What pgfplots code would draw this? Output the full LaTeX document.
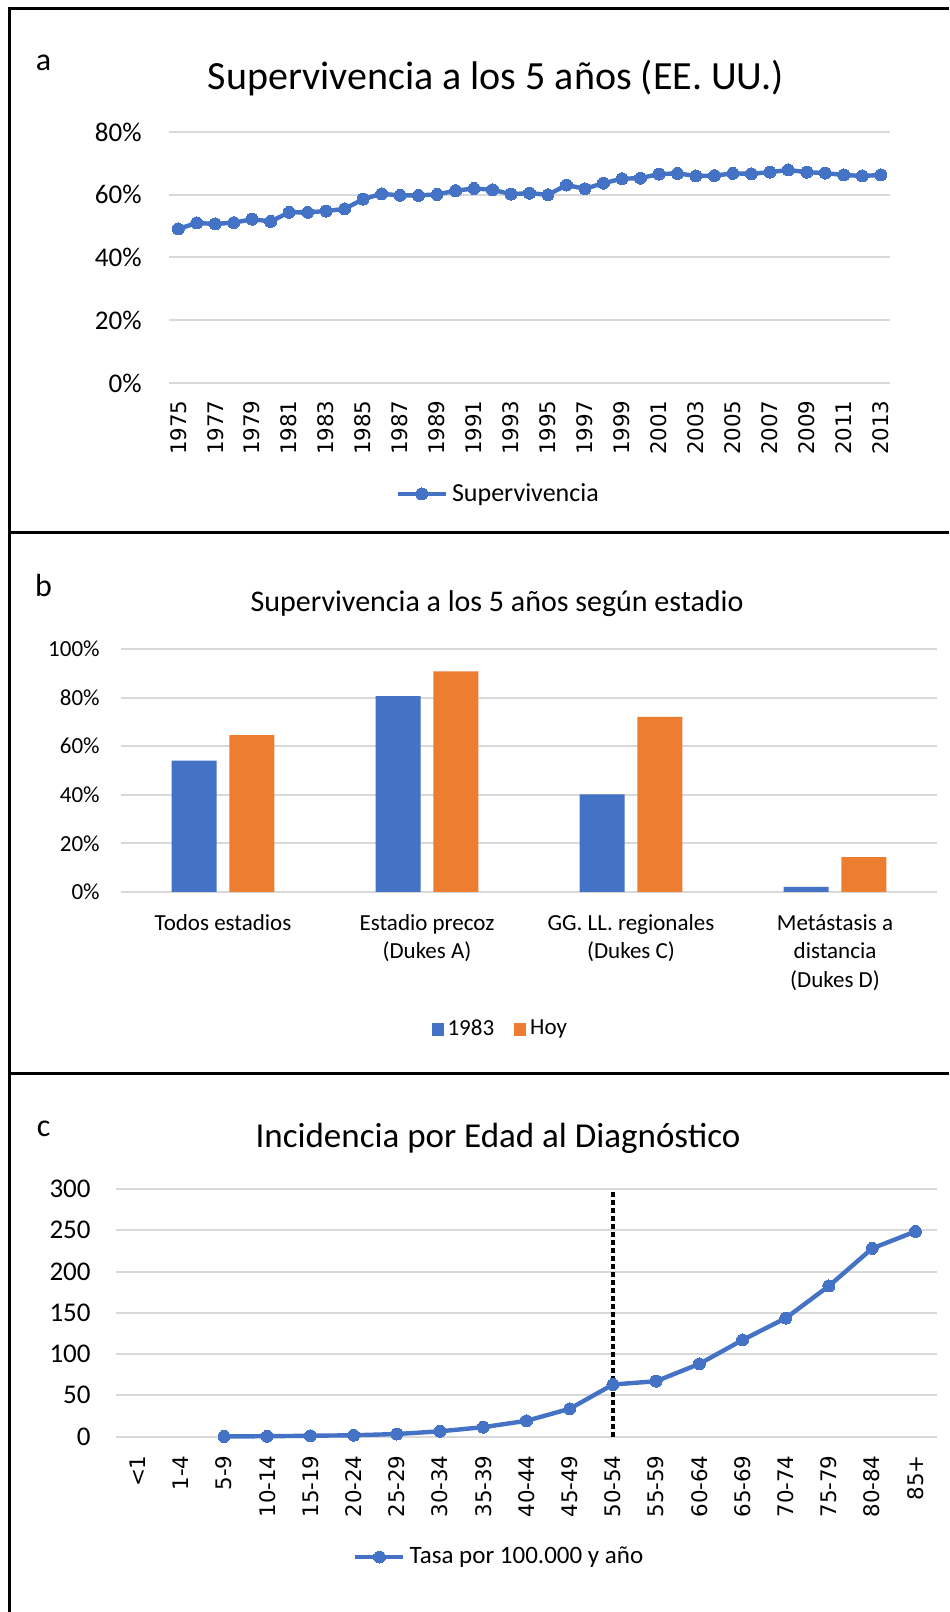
\documentclass[border=0pt]{standalone}
\usepackage{fontspec}
\setmainfont{Carlito}
\newfontfamily\dejavu{DejaVu Sans}
\usepackage{pgfplots}
\pgfplotsset{compat=1.18}
\definecolor{xblue}{HTML}{4472C4}
\definecolor{xorange}{HTML}{ED7D31}
\definecolor{xgrid}{HTML}{D9D9D9}
\pgfplotsset{
  xls/.style={scale only axis, anchor=south west,
    axis line style={draw=none}, tick style={draw=none},
    ymajorgrids, major grid style={xgrid, line width=1pt},
    clip=false, /pgf/number format/assume math mode=true,
    /pgf/number format/1000 sep={}},
  xline/.style={xblue, line width=2.2pt, mark=*, mark size=3pt, mark options={fill=xblue, draw=xblue, line width=0pt}},
  linelegend/.style={legend image code/.code={\draw[mark repeat=2,mark phase=2,##1] plot coordinates {(0pt,0pt) (12pt,0pt) (24pt,0pt)};}}
}
\begin{document}
\begin{tikzpicture}
\useasboundingbox (0,0) rectangle (474.5pt,806pt);
\fill[white] (0,0) rectangle (474.5pt,806pt);
\draw[line width=1.5pt] (474.5pt,801.75pt) -- (4.75pt,801.75pt) -- (4.75pt,0pt);
\draw[line width=1.5pt] (4.75pt,539.5pt) -- (474.5pt,539.5pt);
\draw[line width=1.5pt] (4.75pt,269pt) -- (474.5pt,269pt);

% ---------- panel a ----------
\node[anchor=base, font=\fontsize{16}{19}\selectfont] at (21.8pt,770.7pt) {a};
\node[anchor=base, font=\fontsize{20}{24}\selectfont] at (248pt,761.3pt) {Supervivencia a los 5 años (EE. UU.)};
\begin{axis}[xls, linelegend, at={(84.5pt,614.5pt)}, width=360.5pt, height=125.5pt,
  xmin=1974.5, xmax=2013.5, ymin=0, ymax=80,
  ytick={0,20,40,60,80}, yticklabels={0\%,20\%,40\%,60\%,80\%},
  yticklabel style={font=\fontsize{13.5}{16}\selectfont, anchor=east, inner sep=0pt, xshift=-13.5pt},
  xtick={1975,1977,...,2013},
  xticklabel style={font=\dejavu\fontsize{10.7}{12}\selectfont, yshift=-8.5pt, rotate=90, anchor=east, inner sep=0pt},
  legend style={draw=none, fill=none, at={(0.458,-0.442)}, anchor=center, font=\fontsize{13}{15}\selectfont}]
\addplot[xline] table {
1975 49.1
1976 51.0
1977 50.7
1978 51.1
1979 52.2
1980 51.5
1981 54.4
1982 54.4
1983 54.8
1984 55.5
1985 58.6
1986 60.3
1987 59.8
1988 59.8
1989 60.1
1990 61.3
1991 62.0
1992 61.6
1993 60.2
1994 60.5
1995 60.0
1996 63.1
1997 61.9
1998 63.7
1999 65.1
2000 65.3
2001 66.6
2002 66.8
2003 66.0
2004 66.1
2005 66.8
2006 66.7
2007 67.2
2008 67.9
2009 67.2
2010 66.9
2011 66.3
2012 66.0
2013 66.3
};
\addlegendentry{Supervivencia}
\end{axis}

% ---------- panel b ----------
\node[anchor=base, font=\fontsize{16}{19}\selectfont] at (21.8pt,507.5pt) {b};
\node[anchor=base, font=\fontsize{15}{18}\selectfont] at (248.5pt,500.25pt) {Supervivencia a los 5 años según estadio};
\begin{axis}[xls, at={(60.5pt,360pt)}, width=408pt, height=121.5pt,
  xmin=-0.5, xmax=3.5, ymin=0, ymax=100,
  ytick={0,20,40,60,80,100}, yticklabels={0\%,20\%,40\%,60\%,80\%,100\%},
  yticklabel style={font=\fontsize{11.5}{14}\selectfont, anchor=east, inner sep=0pt, xshift=-10.5pt},
  xtick={0,1,2,3},
  xticklabels={Todos estadios,{Estadio precoz\\(Dukes A)},{GG. LL. regionales\\(Dukes C)},{Metástasis a\\distancia\\(Dukes D)}},
  xticklabel style={font=\fontsize{11.5}{14.25}\selectfont, align=center, anchor=north, inner sep=0pt, yshift=-11pt},
  legend columns=-1,
  legend image code/.code={\fill[#1] (0pt,-3.25pt) rectangle (6pt,3.25pt);},
  legend style={draw=none, fill=none, at={(0.466,-0.564)}, anchor=center, font=\fontsize{11.5}{14}\selectfont,
    /tikz/every even column/.append style={column sep=8pt}}]
\addplot[ybar, bar width=22.5pt, bar shift=-14.4pt, fill=xblue, draw=none] coordinates {(0,54.1) (1,80.6) (2,40.2) (3,2.1)};
\addlegendentry{1983}
\addplot[ybar, bar width=22.5pt, bar shift=14.4pt, fill=xorange, draw=none] coordinates {(0,64.6) (1,90.8) (2,72.1) (3,14.3)};
\addlegendentry{Hoy}
\end{axis}

% ---------- panel c ----------
\node[anchor=base, font=\fontsize{16}{19}\selectfont] at (21.8pt,237.8pt) {c};
\node[anchor=base, font=\fontsize{17.5}{21}\selectfont] at (249pt,232.1pt) {Incidencia por Edad al Diagnóstico};
\begin{axis}[xls, linelegend, at={(58pt,87.75pt)}, width=410.5pt, height=123.75pt,
  xmin=-0.5, xmax=18.5, ymin=0, ymax=300,
  ytick={0,50,...,300},
  yticklabel style={font=\fontsize{13.5}{16}\selectfont, anchor=east, inner sep=0pt, xshift=-12.5pt},
  xtick={0,...,18},
  xticklabels={<1,1-4,5-9,10-14,15-19,20-24,25-29,30-34,35-39,40-44,45-49,50-54,55-59,60-64,65-69,70-74,75-79,80-84,85+},
  xticklabel style={font=\dejavu\fontsize{10.7}{12}\selectfont, yshift=-9.25pt, rotate=90, anchor=east, inner sep=0pt},
  legend style={draw=none, fill=none, at={(0.468,-0.487)}, anchor=center, font=\fontsize{12.5}{15}\selectfont}]
\addplot[black, line width=2pt, dash pattern=on 2.5pt off 1.5pt, forget plot] coordinates {(11,-1) (11,297)};
\addplot[xline] table {
2 0.1
3 0.3
4 0.9
5 1.5
6 3.0
7 6.3
8 11.3
9 19
10 33.6
11 63
12 67
13 88
14 117
15 143.5
16 182.5
17 228
18 248.5
};
\addlegendentry{Tasa por 100.000 y año}
\end{axis}
\end{tikzpicture}
\end{document}
